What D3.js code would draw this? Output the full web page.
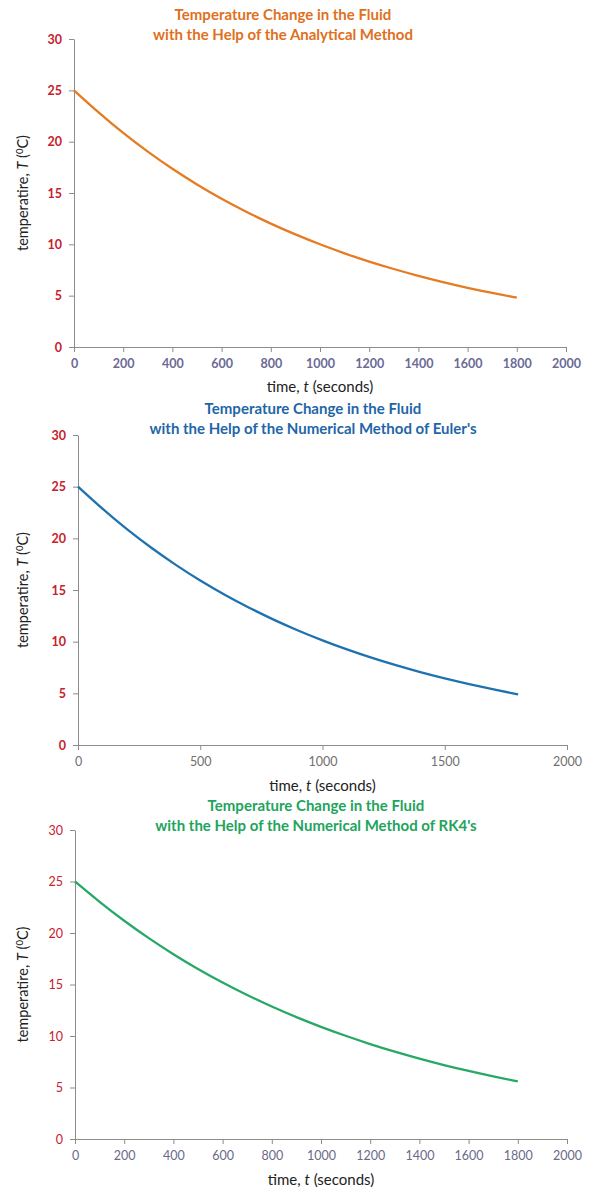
<!DOCTYPE html>
<html>
<head>
<meta charset="utf-8">
<script src="https://cdn.jsdelivr.net/npm/d3@7"></script>
<style>
  body { margin: 0; background: #fff; }
  svg text { font-family: Lato, "Open Sans", sans-serif; }
</style>
</head>
<body>
<div id="charts"></div>
<script>
// time points (seconds)
const times = [0, 100, 200, 300, 400, 500, 600, 700, 800, 900, 1000,
               1100, 1200, 1300, 1400, 1500, 1600, 1700, 1800];

// temperature readings, deg C
const analytical = [25, 22.82, 20.82, 19.0, 17.33, 15.81, 14.42, 13.16, 12.0, 10.95, 9.99,
                    9.11, 8.31, 7.59, 6.92, 6.31, 5.76, 5.26, 4.8];
const euler = [25, 22.84, 20.86, 19.06, 17.41, 15.9, 14.53, 13.27, 12.12, 11.07, 10.12,
               9.24, 8.44, 7.71, 7.04, 6.43, 5.88, 5.37, 4.9];
const rk4 = [25, 23.0, 21.17, 19.48, 17.92, 16.49, 15.17, 13.96, 12.85, 11.82, 10.88,
             10.01, 9.21, 8.47, 7.8, 7.17, 6.6, 6.08, 5.59];

const yTicks = [0, 5, 10, 15, 20, 25, 30];
const xTicks200 = [0, 200, 400, 600, 800, 1000, 1200, 1400, 1600, 1800, 2000];
const xTicks500 = [0, 500, 1000, 1500, 2000];

const titleLine1 = 'Temperature Change in the Fluid';
const titles = [
    'with the Help of the Analytical Method',
    "with the Help of the Numerical Method of Euler's",
    "with the Help of the Numerical Method of RK4's"
];

const svg = d3.select('#charts')
    .append('svg')
    .attr('width', 591)
    .attr('height', 1187);

function drawPanel(cfg) {
    const x = d3.scaleLinear().domain([0, 2000]).range([cfg.left, cfg.right]);
    const y = d3.scaleLinear().domain([0, 30]).range([cfg.bottom, cfg.top]);
    const g = svg.append('g');

    // y axis
    const ya = g.append('g')
        .attr('transform', `translate(${cfg.left},0)`)
        .call(d3.axisLeft(y).tickValues(yTicks).tickFormat(d3.format('d'))
            .tickSize(5).tickSizeOuter(0).tickPadding(7));
    ya.selectAll('path, line').attr('stroke', '#8c8c8c');
    ya.selectAll('text')
        .attr('fill', '#c8202c')
        .attr('font-size', 12.5)
        .attr('font-weight', cfg.yBold ? 'bold' : 'normal');

    // x axis
    const xa = g.append('g')
        .attr('transform', `translate(0,${cfg.bottom})`)
        .call(d3.axisBottom(x).tickValues(cfg.xTicks).tickFormat(d3.format('d'))
            .tickSize(5).tickSizeOuter(0).tickPadding(7));
    xa.selectAll('path, line').attr('stroke', '#8c8c8c');
    xa.selectAll('text')
        .attr('fill', cfg.xColor)
        .attr('font-size', 12.5)
        .attr('font-weight', cfg.xBold ? 'bold' : 'normal');

    // curve
    const pts = times.map((t, i) => [t, cfg.values[i]]);
    g.append('path')
        .datum(pts)
        .attr('fill', 'none')
        .attr('stroke', cfg.color)
        .attr('stroke-width', 2.3)
        .attr('d', d3.line().curve(d3.curveBasis).x(d => x(d[0])).y(d => y(d[1])));

    // title
    const tt = g.append('text')
        .attr('x', cfg.titleX)
        .attr('y', cfg.titleY)
        .attr('text-anchor', 'middle')
        .attr('fill', cfg.titleColor)
        .attr('font-size', 15)
        .attr('font-weight', 'bold');
    tt.append('tspan').attr('x', cfg.titleX).text(titleLine1);
    tt.append('tspan').attr('x', cfg.titleX).attr('dy', 20).text(cfg.title);

    // x axis title
    const xt = g.append('text')
        .attr('x', (cfg.left + cfg.right) / 2)
        .attr('y', cfg.xTitleY)
        .attr('text-anchor', 'middle')
        .attr('fill', '#222')
        .attr('font-size', 15);
    xt.append('tspan').text('time, ');
    xt.append('tspan').attr('font-style', 'italic').text('t');
    xt.append('tspan').text(' (seconds)');

    // y axis title
    const cy = (cfg.top + cfg.bottom) / 2;
    const yt = g.append('text')
        .attr('transform', `translate(28,${cy}) rotate(-90)`)
        .attr('text-anchor', 'middle')
        .attr('fill', '#222')
        .attr('font-size', 14.5);
    yt.append('tspan').text('temperatire, ');
    yt.append('tspan').attr('font-style', 'italic').text('T');
    yt.append('tspan').text(' (');
    yt.append('tspan').attr('font-size', 9.5).attr('dy', -5).text('0');
    yt.append('tspan').attr('dy', 5).text('C)');
}

drawPanel({
    values: analytical, color: '#e57b22', titleColor: '#e07020',
    title: titles[0], titleX: 283, titleY: 20,
    left: 74, right: 566, top: 39, bottom: 347,
    xTicks: xTicks200, xColor: '#6a6a96', xBold: true, yBold: true, xTitleY: 392
});

drawPanel({
    values: euler, color: '#1f72b0', titleColor: '#1f66a8',
    title: titles[1], titleX: 313, titleY: 414,
    left: 78, right: 567, top: 435, bottom: 745,
    xTicks: xTicks500, xColor: '#707070', xBold: false, yBold: true, xTitleY: 791
});

drawPanel({
    values: rk4, color: '#27a866', titleColor: '#22a45c',
    title: titles[2], titleX: 316, titleY: 811,
    left: 75, right: 567, top: 830, bottom: 1139,
    xTicks: xTicks200, xColor: '#6a6a8a', xBold: false, yBold: false, xTitleY: 1185
});
</script>
</body>
</html>
